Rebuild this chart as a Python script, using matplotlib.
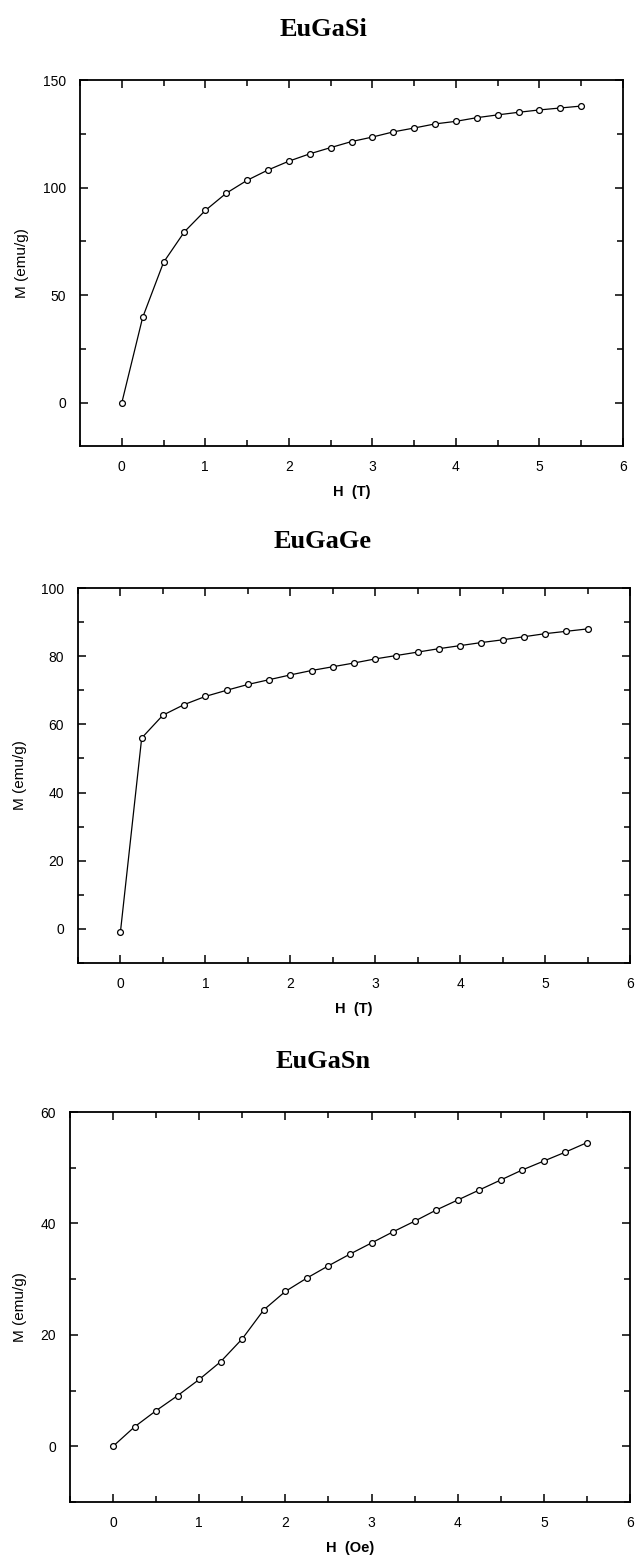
import matplotlib.pyplot as plt
import numpy as np
from matplotlib.ticker import MultipleLocator

# field values (T), same for all three samples
H = [0, 0.25, 0.5, 0.75, 1.0, 1.25, 1.5, 1.75, 2.0, 2.25, 2.5, 2.75,
     3.0, 3.25, 3.5, 3.75, 4.0, 4.25, 4.5, 4.75, 5.0, 5.25, 5.5]

M_si = [0, 39.7, 65.3, 79.5, 89.4, 97.4, 103.4, 108.2, 112.3, 115.7, 118.6, 121.4,
        123.5, 125.9, 127.7, 129.6, 130.8, 132.5, 133.8, 135.0, 136.1, 137.0, 137.9]
M_ge = [-0.8, 56.0, 62.7, 65.8, 68.2, 70.0, 71.7, 73.1, 74.5, 75.8, 76.9, 78.0,
        79.2, 80.2, 81.2, 82.2, 83.1, 84.0, 84.8, 85.7, 86.6, 87.3, 88.0]
M_sn = [0, 3.5, 6.4, 9.1, 12.0, 15.2, 19.3, 24.5, 27.8, 30.2, 32.4, 34.5,
        36.5, 38.5, 40.4, 42.4, 44.2, 46.0, 47.8, 49.6, 51.2, 52.8, 54.5]

titles = ['EuGaSi', 'EuGaGe', 'EuGaSn']
xlabels = ['H  (T)', 'H  (T)', 'H  (Oe)']
ylims = [(-20, 150), (-10, 100), (-10, 60)]
ymajor = [50, 20, 20]
yminor = [25, 10, 10]

W, Hpx = 636, 1560
# axes boxes in pixels: left, right, top, bottom
boxes = [(80, 623, 80, 446), (78, 630, 588, 963), (70, 630, 1112, 1502)]
title_y = [29, 541, 1061]

plt.rcParams['font.family'] = ['Liberation Sans', 'DejaVu Sans']

fig = plt.figure(figsize=(W / 100, Hpx / 100), dpi=100)

for i, M in enumerate([M_si, M_ge, M_sn]):
    l, r, t, b = boxes[i]
    ax = fig.add_axes([l / W, 1 - b / Hpx, (r - l) / W, (b - t) / Hpx])
    ax.plot(H, M, color='black', lw=0.9, marker='o', ms=4.2,
            mfc='white', mec='black', mew=0.9)
    ax.set_xlim(-0.5, 6)
    ax.set_ylim(*ylims[i])
    ax.xaxis.set_major_locator(MultipleLocator(1))
    ax.xaxis.set_minor_locator(MultipleLocator(0.5))
    ax.yaxis.set_major_locator(MultipleLocator(ymajor[i]))
    ax.yaxis.set_minor_locator(MultipleLocator(yminor[i]))
    ax.tick_params(which='both', direction='in', top=True, right=True,
                   width=1.1, labelsize=10, pad=10)
    ax.tick_params(which='major', length=6)
    ax.tick_params(which='minor', length=4)
    for s in ax.spines.values():
        s.set_linewidth(1.3)
    ax.set_xlabel(xlabels[i], fontsize=10.5, fontweight='bold', labelpad=8)
    ax.set_ylabel('M (emu/g)', fontsize=11, labelpad=10)
    fig.text(323 / W, 1 - title_y[i] / Hpx, titles[i], ha='center', va='center',
             fontsize=19, fontweight='bold', family='Liberation Serif')

fig.savefig('out.png', dpi=100)
